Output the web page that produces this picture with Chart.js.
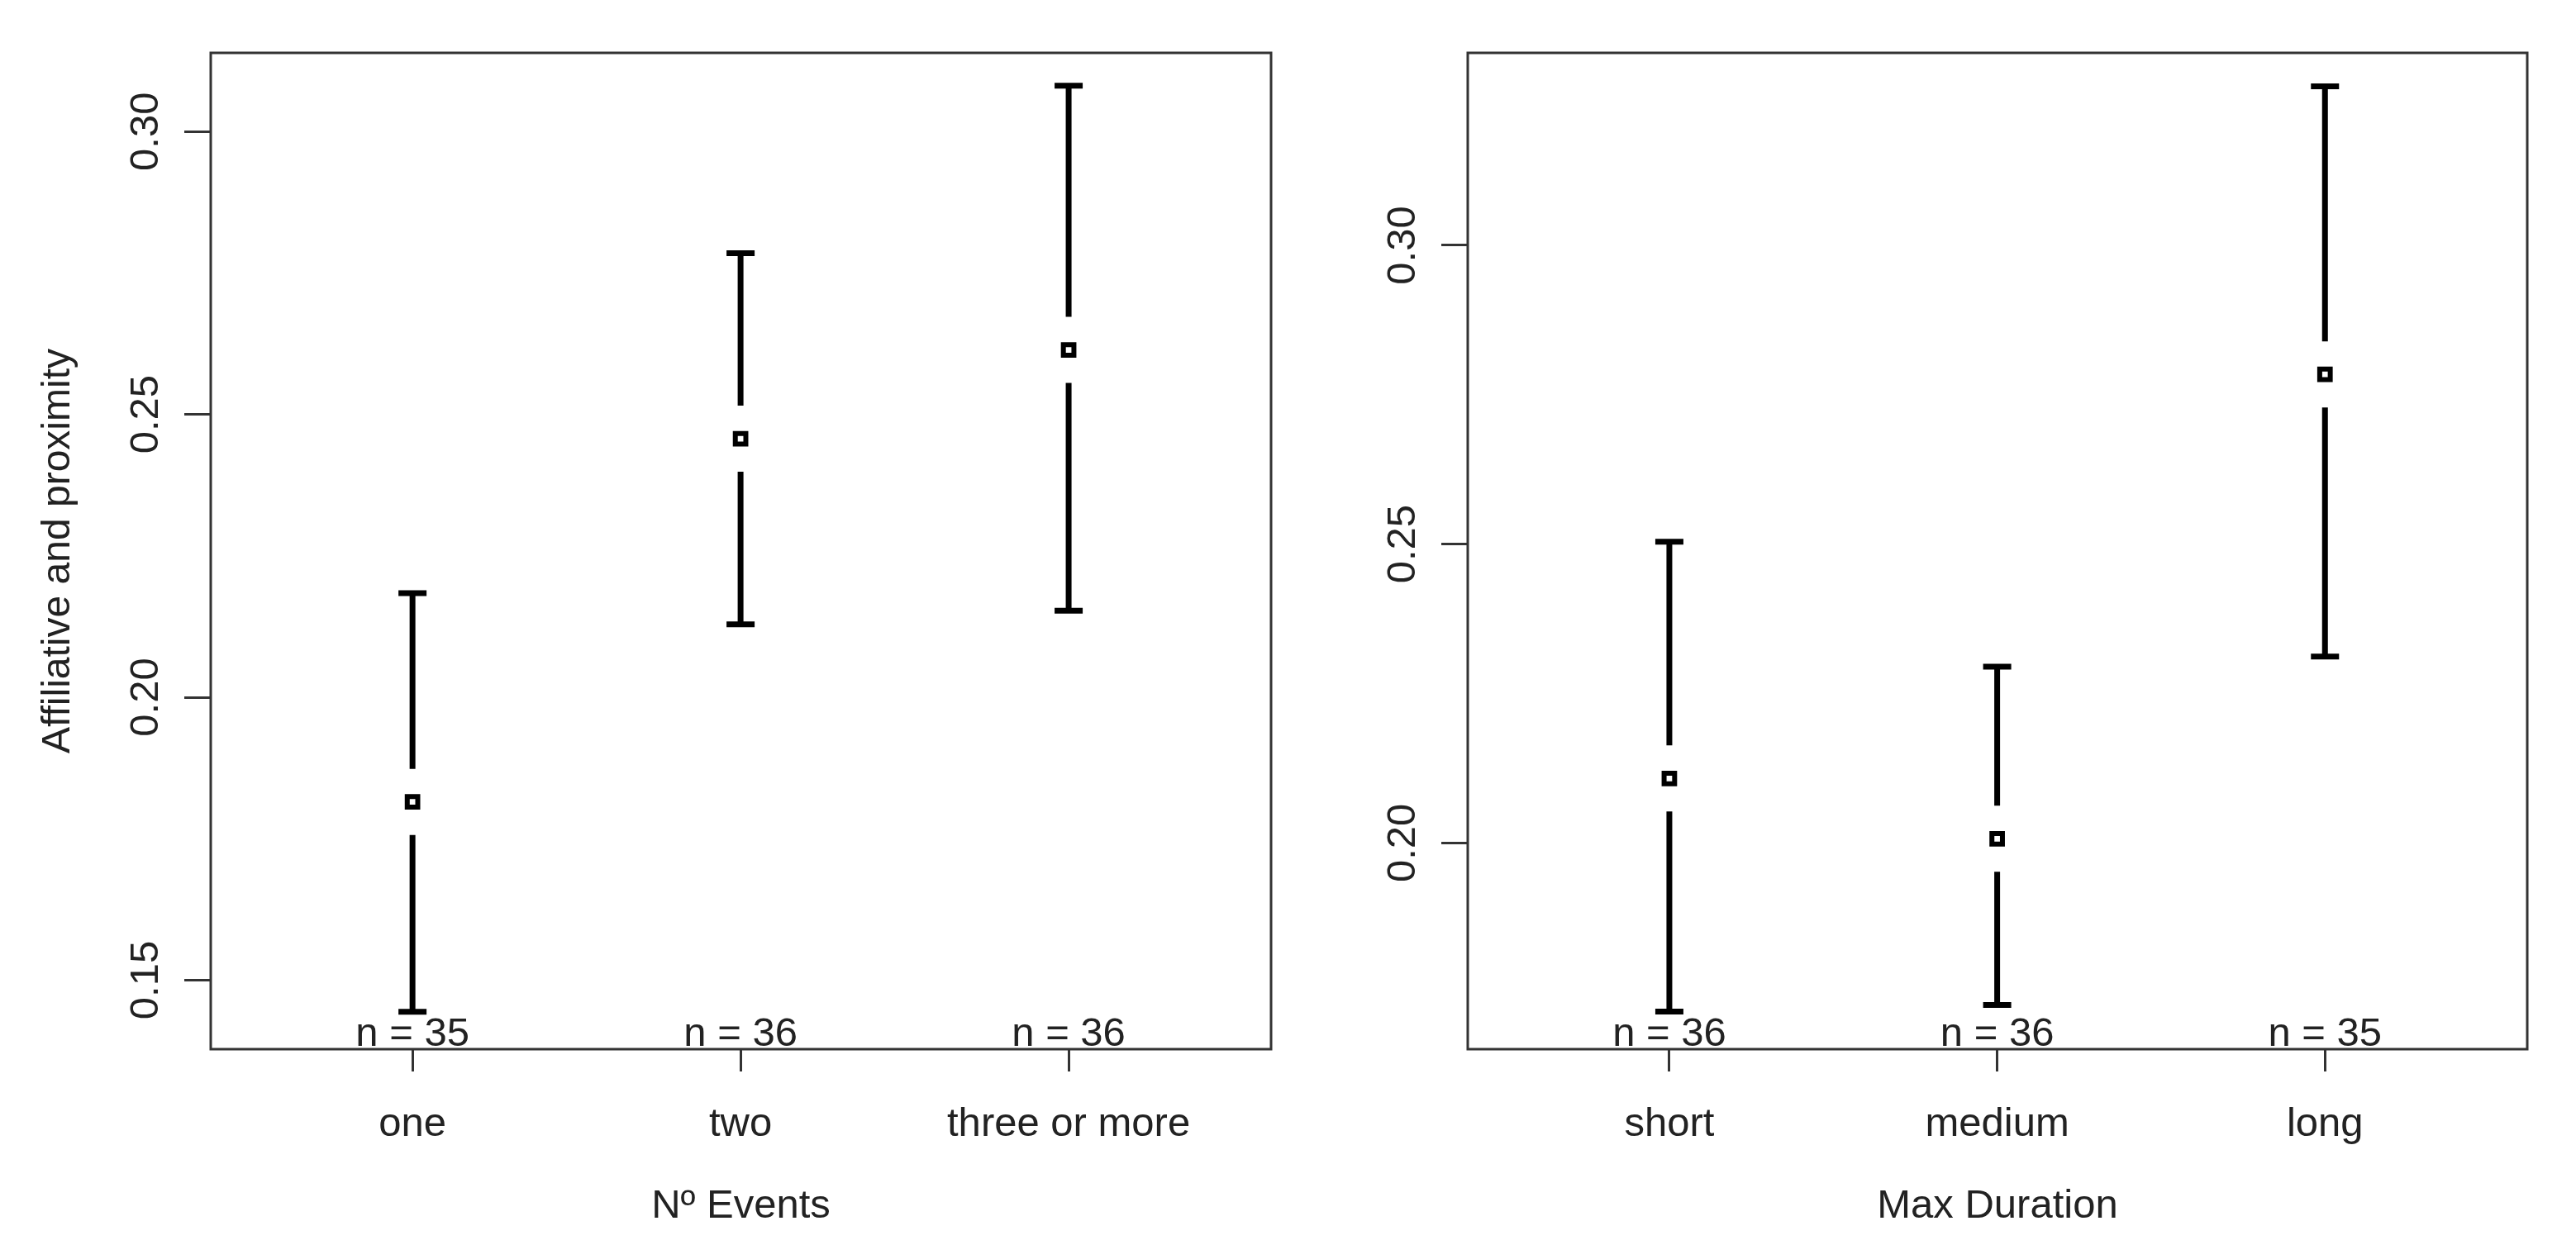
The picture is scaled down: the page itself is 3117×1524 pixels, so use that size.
<!DOCTYPE html>
<html>
<head>
<meta charset="utf-8">
<script src="https://cdn.jsdelivr.net/npm/chart.js@4.4.1/dist/chart.umd.min.js"></script>
<style>
  html, body { margin: 0; padding: 0; background: #fff; }
  #wrap { position: relative; width: 3117px; height: 1524px; }
  #leftBox { position: absolute; left: 0; top: 0; width: 1560px; height: 1524px; }
  #rightBox { position: absolute; left: 1560px; top: 0; width: 1557px; height: 1524px; }
</style>
</head>
<body>
<div id="wrap">
  <div id="leftBox"><canvas id="eventsChart"></canvas></div>
  <div id="rightBox"><canvas id="durationChart"></canvas></div>
</div>
<script>
// left panel: number of events
const eventCategories = ['one', 'two', 'three or more'];
const eventMeans = [0.1815, 0.2457, 0.2614];
const eventLower = [0.1444, 0.2129, 0.2153];
const eventUpper = [0.2184, 0.2785, 0.3081];
const eventCounts = [35, 36, 36];
const eventTicks = [0.15, 0.20, 0.25, 0.30];
const eventRange = [0.1378, 0.3139];

// right panel: max duration
const durationCategories = ['short', 'medium', 'long'];
const durationMeans = [0.2108, 0.2007, 0.2784];
const durationLower = [0.1718, 0.1729, 0.2312];
const durationUpper = [0.2504, 0.2295, 0.3266];
const durationCounts = [36, 36, 35];
const durationTicks = [0.20, 0.25, 0.30];
const durationRange = [0.1655, 0.3322];

const FONT = '"Liberation Sans", Arial, sans-serif';
const TEXT = '#222';
Chart.defaults.font.family = FONT;
Chart.defaults.font.size = 49;
Chart.defaults.color = TEXT;

// error bars with a gap round the mean, n labels and the frame
function errorBars(means, lower, upper, counts) {
    return {
        id: 'errorBars',
        afterDatasetsDraw(chart) {
            const ctx = chart.ctx;
            const xs = chart.scales.x, ys = chart.scales.y;
            ctx.save();
            ctx.strokeStyle = '#000';
            ctx.lineWidth = 7;
            means.forEach((m, i) => {
                const x = xs.getPixelForValue(i + 1);
                const yTop = ys.getPixelForValue(upper[i]);
                const yBot = ys.getPixelForValue(lower[i]);
                const yMid = ys.getPixelForValue(m);
                ctx.beginPath();
                ctx.moveTo(x, yTop); ctx.lineTo(x, yMid - 40);
                ctx.moveTo(x, yMid + 40); ctx.lineTo(x, yBot);
                ctx.moveTo(x - 17, yTop); ctx.lineTo(x + 17, yTop);
                ctx.moveTo(x - 17, yBot); ctx.lineTo(x + 17, yBot);
                ctx.stroke();
            });
            ctx.fillStyle = TEXT;
            ctx.font = '49px ' + FONT;
            ctx.textAlign = 'center';
            ctx.textBaseline = 'alphabetic';
            counts.forEach((n, i) => {
                ctx.fillText('n = ' + n, xs.getPixelForValue(i + 1), chart.chartArea.bottom - 4);
            });
            ctx.restore();
        },
        afterDraw(chart) {
            const a = chart.chartArea;
            const ctx = chart.ctx;
            ctx.save();
            ctx.strokeStyle = '#333';
            ctx.lineWidth = 3;
            ctx.strokeRect(a.left, a.top, a.right - a.left, a.bottom - a.top);
            ctx.restore();
        }
    };
}

function makeChart(id, p) {
    return new Chart(document.getElementById(id), {
        type: 'scatter',
        data: {
            datasets: [{
                data: p.means.map((m, i) => ({ x: i + 1, y: m })),
                pointStyle: 'rect',
                pointRadius: 9,
                pointBorderWidth: 6,
                borderColor: '#000',
                backgroundColor: '#fff'
            }]
        },
        options: {
            responsive: true,
            maintainAspectRatio: false,
            animation: false,
            events: [],
            layout: { padding: { left: 0, top: 64, right: p.padRight, bottom: 0 } },
            plugins: { legend: { display: false }, tooltip: { enabled: false } },
            scales: {
                x: {
                    type: 'linear',
                    min: 0.385,
                    max: 3.617,
                    afterBuildTicks: s => { s.ticks = p.categories.map((c, i) => ({ value: i + 1 })); },
                    afterFit: s => { s.height = 254; },
                    ticks: {
                        padding: 35,
                        autoSkip: false,
                        maxRotation: 0,
                        callback: v => p.categories[Math.round(v) - 1]
                    },
                    grid: { drawOnChartArea: false, tickLength: 27, color: '#333', lineWidth: 3 },
                    border: { display: false },
                    title: { display: true, text: p.xTitle, padding: { top: 0, bottom: 34 } }
                },
                y: {
                    type: 'linear',
                    min: p.range[0],
                    max: p.range[1],
                    afterBuildTicks: s => { s.ticks = p.yTicks.map(v => ({ value: v })); },
                    afterFit: s => { s.width = p.axisWidth; },
                    ticks: {
                        minRotation: 90,
                        maxRotation: 90,
                        crossAlign: 'center',
                        padding: -2,
                        callback: v => v.toFixed(2)
                    },
                    grid: { drawOnChartArea: false, tickLength: 32, color: '#333', lineWidth: 3 },
                    border: { display: false },
                    title: {
                        display: !!p.yTitle,
                        text: p.yTitle || '',
                        font: { size: 48 },
                        padding: { top: 42, bottom: 0 }
                    }
                }
            }
        },
        plugins: [errorBars(p.means, p.lower, p.upper, p.counts)]
    });
}

makeChart('eventsChart', {
    categories: eventCategories, means: eventMeans, lower: eventLower, upper: eventUpper,
    counts: eventCounts, yTicks: eventTicks, range: eventRange,
    xTitle: 'Nº Events', yTitle: 'Affiliative and proximity',
    axisWidth: 255, padRight: 22
});

makeChart('durationChart', {
    categories: durationCategories, means: durationMeans, lower: durationLower, upper: durationUpper,
    counts: durationCounts, yTicks: durationTicks, range: durationRange,
    xTitle: 'Max Duration', yTitle: '',
    axisWidth: 216, padRight: 59
});
</script>
</body>
</html>
